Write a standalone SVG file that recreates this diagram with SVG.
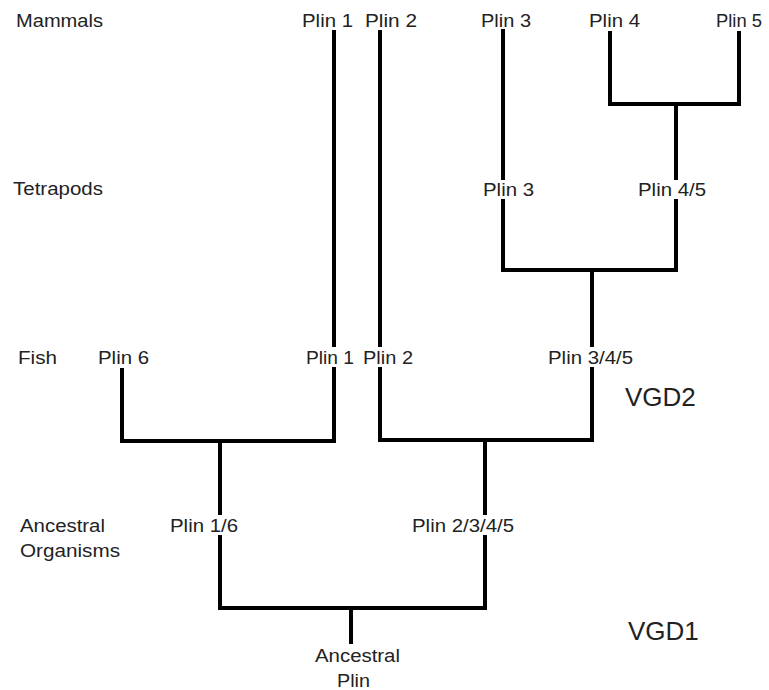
<svg xmlns="http://www.w3.org/2000/svg" width="769" height="690" viewBox="0 0 769 690">
<style>
text{font-family:"Liberation Sans",Arial,sans-serif;font-size:17.5px;fill:#222}
.big{font-size:26px}
.e{fill:none;stroke:#000;stroke-width:4;stroke-linejoin:miter;stroke-linecap:square}
</style>
<rect width="769" height="690" fill="#fff"/>
<g id="connectors">
<path class="e" d="M334 32V345"/>
<path class="e" d="M122 370V441H334V369"/>
<path class="e" d="M220 441V513"/>
<path class="e" d="M380 32V345"/>
<path class="e" d="M380 369V440H592V369"/>
<path class="e" d="M592 345V270"/>
<path class="e" d="M503 201V270H676V201"/>
<path class="e" d="M503 31V178"/>
<path class="e" d="M676 178V104"/>
<path class="e" d="M610 33V104H739V33"/>
<path class="e" d="M485 440V513"/>
<path class="e" d="M220 537V608H485V537"/>
<path class="e" d="M351 608V642"/>
</g>
<g id="levels">
<text x="16" y="27" textLength="87" lengthAdjust="spacingAndGlyphs">Mammals</text>
<text x="13" y="195" textLength="90" lengthAdjust="spacingAndGlyphs">Tetrapods</text>
<text x="18" y="364" textLength="39" lengthAdjust="spacingAndGlyphs">Fish</text>
<text x="20" y="532" textLength="85" lengthAdjust="spacingAndGlyphs">Ancestral</text>
<text x="20" y="557" textLength="100" lengthAdjust="spacingAndGlyphs">Organisms</text>
</g>
<g id="n-plin1-m"><text x="302" y="27" textLength="51" lengthAdjust="spacingAndGlyphs">Plin 1</text></g>
<g id="n-plin2-m"><text x="365" y="27" textLength="52" lengthAdjust="spacingAndGlyphs">Plin 2</text></g>
<g id="n-plin3-m"><text x="481" y="27" textLength="50" lengthAdjust="spacingAndGlyphs">Plin 3</text></g>
<g id="n-plin4-m"><text x="589" y="27" textLength="51" lengthAdjust="spacingAndGlyphs">Plin 4</text></g>
<g id="n-plin5-m"><text x="716" y="27" textLength="46" lengthAdjust="spacingAndGlyphs">Plin 5</text></g>
<g id="n-plin3-t"><text x="483" y="196" textLength="51" lengthAdjust="spacingAndGlyphs">Plin 3</text></g>
<g id="n-plin45-t"><text x="638" y="196" textLength="68" lengthAdjust="spacingAndGlyphs">Plin 4/5</text></g>
<g id="n-plin6-f"><text x="98" y="364" textLength="51" lengthAdjust="spacingAndGlyphs">Plin 6</text></g>
<g id="n-plin1-f"><text x="306" y="364" textLength="48" lengthAdjust="spacingAndGlyphs">Plin 1</text></g>
<g id="n-plin2-f"><text x="363" y="364" textLength="50" lengthAdjust="spacingAndGlyphs">Plin 2</text></g>
<g id="n-plin345-f"><text x="548" y="364" textLength="85" lengthAdjust="spacingAndGlyphs">Plin 3/4/5</text></g>
<g id="n-plin16-a"><text x="170" y="532" textLength="68" lengthAdjust="spacingAndGlyphs">Plin 1/6</text></g>
<g id="n-plin2345-a"><text x="412" y="532" textLength="102" lengthAdjust="spacingAndGlyphs">Plin 2/3/4/5</text></g>
<g id="n-root">
<text x="315" y="662" textLength="85" lengthAdjust="spacingAndGlyphs">Ancestral</text>
<text x="337" y="687" textLength="33" lengthAdjust="spacingAndGlyphs">Plin</text>
</g>
<g id="vgd2"><text class="big" x="625" y="406">VGD2</text></g>
<g id="vgd1"><text class="big" x="628" y="640">VGD1</text></g>
</svg>
